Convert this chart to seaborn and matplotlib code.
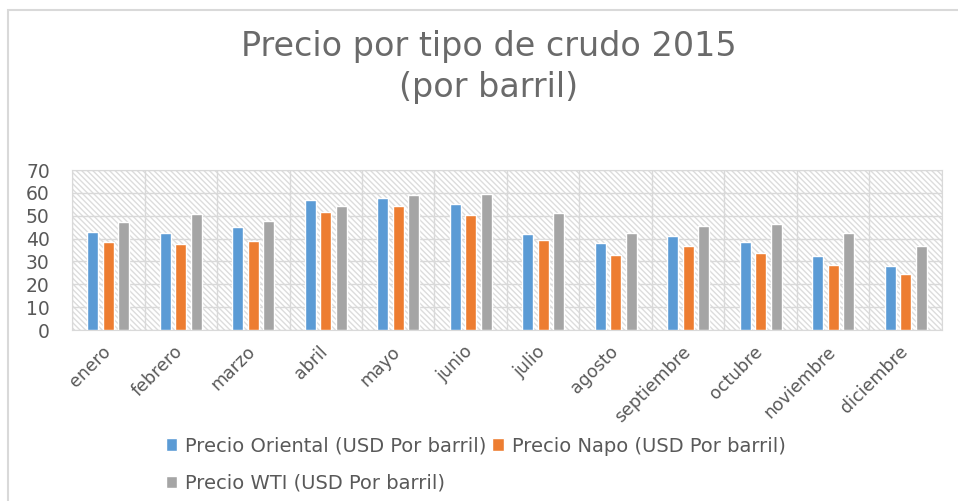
import seaborn as sns
import pandas as pd
import matplotlib.pyplot as plt
import matplotlib.transforms as mtrans
from matplotlib.patches import Rectangle

# Data
meses = ["enero", "febrero", "marzo", "abril", "mayo", "junio", "julio",
         "agosto", "septiembre", "octubre", "noviembre", "diciembre"]
oriental = [42.9, 42.4, 45.1, 57.0, 57.9, 55.0, 42.0, 38.1, 41.1, 38.6, 32.2, 27.9]
napo = [38.6, 37.8, 39.1, 51.5, 54.4, 50.2, 39.5, 32.7, 36.9, 33.8, 28.3, 24.5]
wti = [47.2, 50.6, 47.7, 54.4, 59.2, 59.6, 51.0, 42.4, 45.5, 46.4, 42.4, 36.9]

series = {
    "Precio Oriental (USD Por barril)": oriental,
    "Precio Napo (USD Por barril)": napo,
    "Precio WTI (USD Por barril)": wti,
}
colores = ["#5B9BD5", "#ED7D31", "#A5A5A5"]

df = pd.DataFrame(
    [(m, nombre, v) for nombre, vals in series.items() for m, v in zip(meses, vals)],
    columns=["mes", "serie", "precio"],
)

sns.set_style("white")
plt.rcParams["font.family"] = ["DejaVu Sans"]
texto = "#595959"

fig = plt.figure(figsize=(9.58, 5.01), dpi=100)
ax = fig.add_axes([72 / 958, 1 - 330 / 501, 870 / 958, 160 / 501])

# hatched plot background
ax.add_patch(Rectangle((0, 0), 1, 1, transform=ax.transAxes, facecolor="white",
                       edgecolor="#dcdcdc", hatch="\\\\\\\\\\\\", linewidth=0, zorder=0))

sns.barplot(data=df, x="mes", y="precio", hue="serie", palette=colores,
            width=0.65, gap=0.3, ax=ax, zorder=3, saturation=1)

ax.set_ylim(0, 70)
ax.set_xlim(-0.5, 11.5)
ax.set_yticks(range(0, 71, 10))
ax.set_xticks([i + 0.5 for i in range(-1, 12)], minor=True)
ax.grid(axis="y", which="major", color="#d9d9d9", linewidth=1, zorder=1)
ax.grid(axis="x", which="minor", color="#d9d9d9", linewidth=1, zorder=1)
ax.set_axisbelow(True)
for s in ax.spines.values():
    s.set_color("#d9d9d9")
ax.tick_params(axis="both", which="both", length=0, colors=texto)
ax.tick_params(axis="y", labelsize=13.5, pad=16)
ax.tick_params(axis="x", pad=9)
shift = mtrans.ScaledTranslation(-7 / 100, 0, fig.dpi_scale_trans)
for lab in ax.get_xticklabels():
    lab.set_rotation(45)
    lab.set_ha("right")
    lab.set_rotation_mode("anchor")
    lab.set_fontsize(12.5)
    lab.set_transform(lab.get_transform() + shift)
ax.set_xlabel("")
ax.set_ylabel("")

fig.suptitle("Precio por tipo de crudo 2015\n(por barril)", x=0.51, y=0.94,
             fontsize=24, color="#6a6a6a", linespacing=1.3)

ax.legend_.remove()
handles, labels = ax.get_legend_handles_labels()
orden = [0, 2, 1]
fig.legend([handles[i] for i in orden], [labels[i] for i in orden],
           loc="upper left", bbox_to_anchor=(148 / 958, 1 - 419 / 501),
           ncol=2, frameon=False, fontsize=14, labelcolor=texto,
           handlelength=0.6, handleheight=0.6, handletextpad=0.4,
           columnspacing=0.3, labelspacing=0.95)

# chart border
fig.add_artist(Rectangle((8 / 958, -0.05), 1.0, 1 - 10 / 501 + 0.05, transform=fig.transFigure,
                         fill=False, edgecolor="#d9d9d9", linewidth=1.5))

fig.savefig("out.png", dpi=100)
